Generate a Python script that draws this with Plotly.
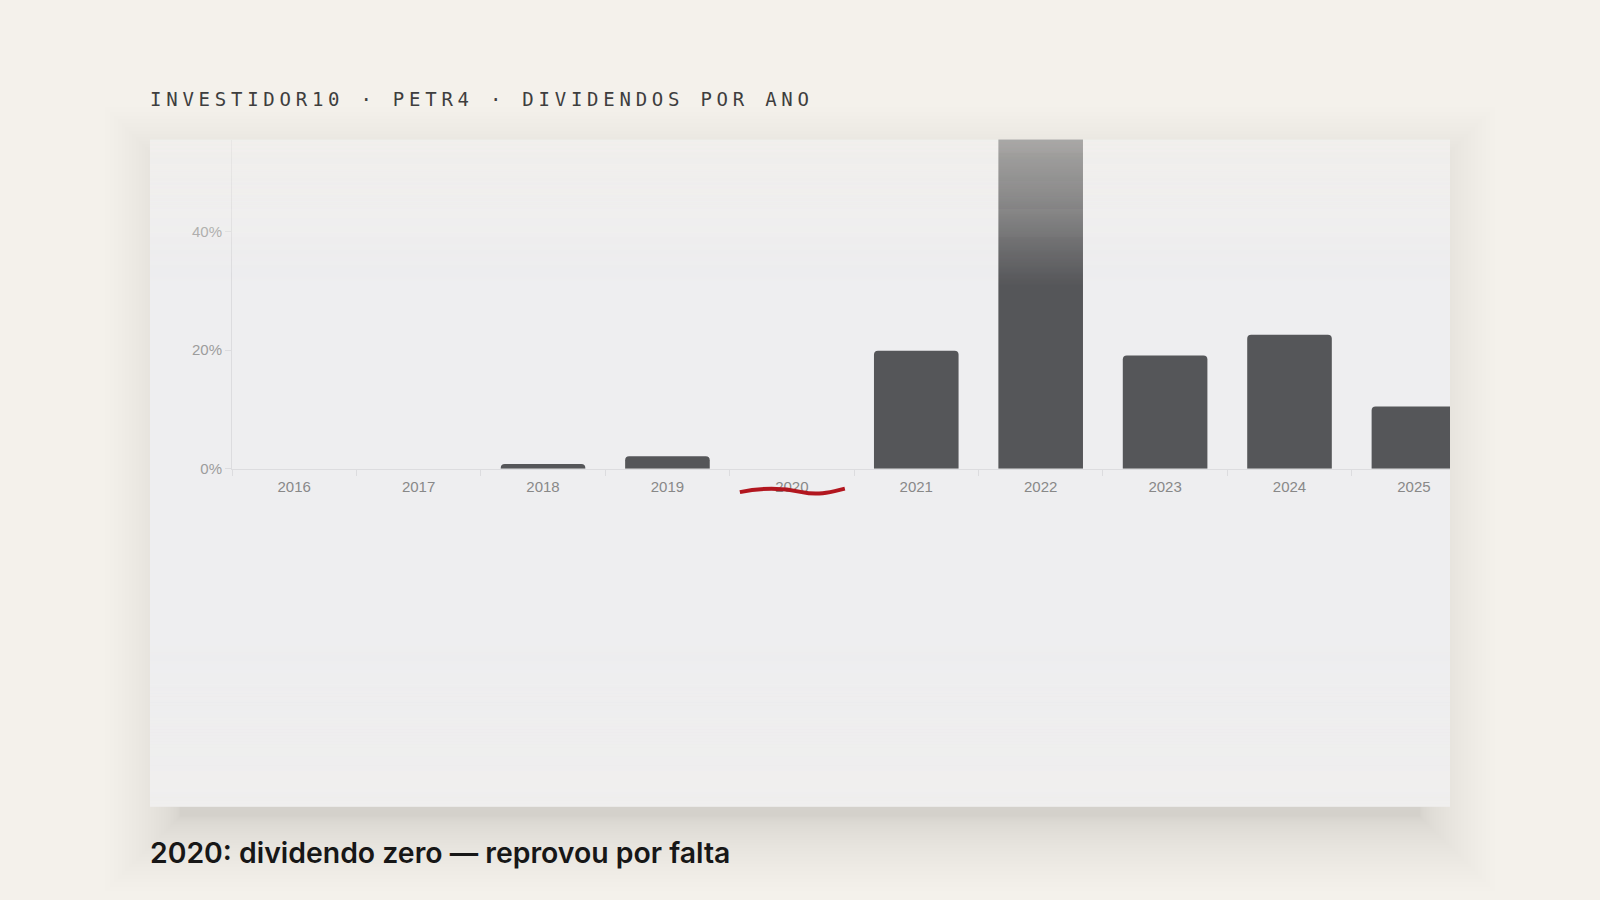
import plotly.graph_objects as go

# ---------------- data ----------------
years = ["2016", "2017", "2018", "2019", "2020", "2021", "2022", "2023", "2024", "2025"]
dy_pct = [0.0, 0.0, 0.8, 2.1, 0.0, 19.9, 59.0, 19.1, 22.6, 10.5]
y_tick_vals = [0, 20, 40]
y_tick_text = ["0%", "20%", "40%"]
highlight_year = "2020"
title_text = "INVESTIDOR10 · PETR4 · DIVIDENDOS POR ANO"
caption_text = "2020: dividendo zero — reprovou por falta"

# ---------------- styling / geometry ----------------
W, H = 1600, 900
PAGE = "#f4f1eb"
CARD = "#eeeef0"
BAR = "#555659"
AXIS = "#dcdcdf"

card_l, card_t, card_r, card_b = 150, 141, 1450, 814
plot_l, plot_r = 232, 1450
zero_px = 473
x_range = [-0.5, 9.29]
y_range = [0, 55.5]


def px_x(p):
    return p / W


def px_y(p):
    return (H - p) / H


shapes = []
# soft card shadow (stacked translucent layers, denser near the card)
n_layers = 32
for k in range(1, n_layers + 1):
    s = -30 + 75 * (k / n_layers) ** 1.8
    shapes.append(dict(
        type="rect", xref="paper", yref="paper", layer="below",
        x0=px_x(card_l - s), x1=px_x(card_r + s),
        y0=px_y(card_b + s + 40), y1=px_y(card_t - s + 12),
        fillcolor="rgb(70,55,35)", opacity=0.004, line=dict(width=0),
    ))
# card
shapes.append(dict(
    type="rect", xref="paper", yref="paper", layer="below",
    x0=px_x(card_l), x1=px_x(card_r), y0=px_y(card_b), y1=px_y(card_t),
    fillcolor=CARD, line=dict(width=0),
))
# warm fade at the bottom of the card
fb0, fb1, step = 640, card_b, 3
yy = fb0
while yy < fb1:
    y2 = min(yy + step, fb1)
    a = 0.35 * ((yy + y2) / 2 - fb0) / (fb1 - fb0)
    shapes.append(dict(
        type="rect", xref="paper", yref="paper", layer="below",
        x0=px_x(card_l), x1=px_x(card_r), y0=px_y(y2), y1=px_y(yy),
        fillcolor=PAGE, opacity=a, line=dict(width=0),
    ))
    yy = y2
# warm fade at the top of the card (over the bars)
ft0, ft1, step = card_t, 290, 1
yy = ft0
while yy < ft1:
    y2 = min(yy + step, ft1)
    a = 0.6 * (1 - ((yy + y2) / 2 - ft0) / (ft1 - ft0))
    shapes.append(dict(
        type="rect", xref="paper", yref="paper", layer="above",
        x0=px_x(card_l), x1=px_x(card_r), y0=px_y(y2), y1=px_y(yy),
        fillcolor=PAGE, opacity=a, line=dict(width=0),
    ))
    yy = y2

# red hand-drawn underline below the highlighted year
idx = years.index(highlight_year)
cx = plot_l + (idx - x_range[0]) * (plot_r - plot_l) / (x_range[1] - x_range[0])
pts = [(cx - 52, 496.5), (cx - 30, 492), (cx - 8, 492.5), (cx + 10, 496.5), (cx + 42, 495.5), (cx + 53, 493)]
P = [(px_x(a), px_y(b)) for a, b in pts]
path = (f"M {P[0][0]},{P[0][1]} C {P[1][0]},{P[1][1]} {P[2][0]},{P[2][1]} {P[3][0]},{P[3][1]} "
        f"S {P[4][0]},{P[4][1]} {P[5][0]},{P[5][1]}")
shapes.append(dict(type="path", xref="paper", yref="paper", layer="above", path=path,
                   line=dict(color="#b2161f", width=4)))

fig = go.Figure()
fig.add_trace(go.Bar(
    x=years, y=dy_pct, width=0.68,
    marker=dict(color=BAR, line=dict(width=0)),
    hoverinfo="x+y",
))

fig.update_layout(
    width=W, height=H, autosize=False,
    margin=dict(l=0, r=0, t=0, b=0),
    paper_bgcolor=PAGE, plot_bgcolor="rgba(0,0,0,0)",
    showlegend=False,
    barcornerradius=4,
    shapes=shapes,
    xaxis=dict(
        type="category", range=x_range, domain=[px_x(plot_l), px_x(plot_r)],
        showline=True, linecolor=AXIS, linewidth=1,
        ticks="outside", tickson="boundaries", ticklen=6, tickcolor=AXIS,
        ticklabelstandoff=4,
        tickfont=dict(family="Liberation Sans, Arial, sans-serif", size=15, color="#888888"),
        showgrid=False, zeroline=False, fixedrange=True,
    ),
    yaxis=dict(
        range=y_range, domain=[px_y(zero_px), px_y(card_t)],
        showline=True, linecolor=AXIS, linewidth=1,
        ticks="outside", ticklen=6, tickcolor=AXIS,
        tickvals=y_tick_vals, ticktext=y_tick_text,
        tickfont=dict(family="Liberation Sans, Arial, sans-serif", size=15, color="#9c9c9c"),
        showgrid=False, zeroline=False, fixedrange=True,
    ),
    annotations=[
        dict(xref="paper", yref="paper", x=px_x(148), y=px_y(100), xanchor="left", yanchor="middle",
             showarrow=False,
             text=f'<span style="letter-spacing:4.75px">{title_text}</span>',
             font=dict(family="DejaVu Sans Mono, monospace", size=19, color="#3e3e3e")),
        dict(xref="paper", yref="paper", x=px_x(148), y=px_y(860), xanchor="left", yanchor="middle",
             showarrow=False, text=caption_text,
             font=dict(family="Inter, Noto Sans, sans-serif", size=28.4, color="#171717", weight=600)),
    ],
)

fig.write_html("out.html", config={"displayModeBar": False},
               post_script="document.body.style.margin='0';document.body.style.overflow='hidden';")
